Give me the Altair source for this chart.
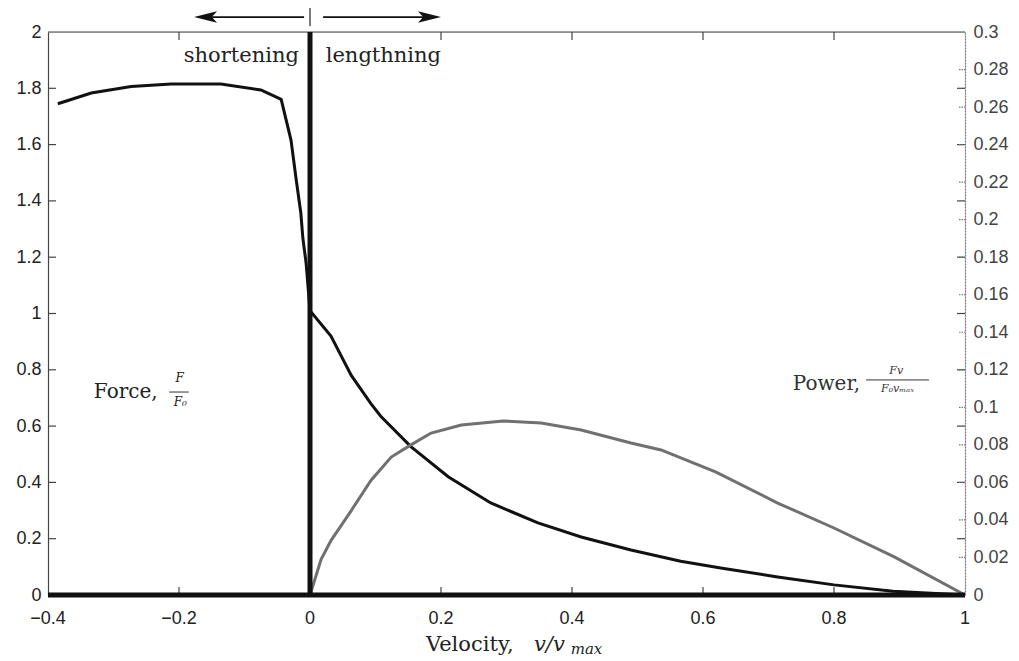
import altair as alt
import pandas as pd

# ---------------- data ----------------
force_v = [-0.385, -0.334, -0.273, -0.212, -0.136, -0.075, -0.044, -0.029, -0.021, -0.014,
           -0.011, -0.006, 0.0, 0.032, 0.063, 0.093, 0.108, 0.154, 0.211, 0.276, 0.348,
           0.414, 0.49, 0.566, 0.627, 0.714, 0.80, 0.89, 1.0]
force_f = [1.745, 1.783, 1.806, 1.815, 1.815, 1.794, 1.761, 1.616, 1.474, 1.357,
           1.27, 1.18, 1.01, 0.92, 0.78, 0.68, 0.635, 0.527, 0.42, 0.327, 0.256,
           0.206, 0.16, 0.12, 0.096, 0.064, 0.036, 0.013, 0.0]

power_v = [0.0, 0.017, 0.032, 0.063, 0.093, 0.124, 0.154, 0.185, 0.231, 0.295, 0.353,
           0.414, 0.49, 0.536, 0.62, 0.714, 0.80, 0.892, 1.0]
power_p = [0.0, 0.019, 0.029, 0.045, 0.061, 0.0735, 0.080, 0.0863, 0.0906, 0.0927, 0.0917,
           0.0879, 0.081, 0.0773, 0.0655, 0.049, 0.0357, 0.0203, 0.0]

x_ticks = [-0.4, -0.2, 0.0, 0.2, 0.4, 0.6, 0.8, 1.0]
y_ticks = [0.0, 0.2, 0.4, 0.6, 0.8, 1.0, 1.2, 1.4, 1.6, 1.8, 2.0]
p_ticks = [0.0, 0.02, 0.04, 0.06, 0.08, 0.1, 0.12, 0.14, 0.16, 0.18, 0.2, 0.22, 0.24, 0.26, 0.28, 0.3]

# ---------------- scales ----------------
XD = [-0.4, 1.0]
YD = [0.0, 2.0]
PD = [0.0, 0.3]


def xsc():
    return alt.Scale(domain=XD, nice=False, zero=False)


def ysc():
    return alt.Scale(domain=YD, nice=False, zero=False)


def psc():
    return alt.Scale(domain=PD, nice=False, zero=False)


TICK_X = 8 / 655.0   # inward tick length in x units
TICK_Y = 8 / 281.5   # inward tick length in y units
LABEL_GAP_Y = 15 / 281.5

SERIF = "DejaVu Serif"
SANS = "Liberation Sans"

force_df = pd.DataFrame({"v": force_v, "f": force_f})
power_df = pd.DataFrame({"v": power_v, "p": power_p})

force_line = alt.Chart(force_df).mark_line(color="#111111", strokeWidth=3, clip=False).encode(
    x=alt.X("v:Q", scale=xsc(), axis=None),
    y=alt.Y("f:Q", scale=ysc(),
            axis=alt.Axis(orient="left", values=y_ticks, title="", ticks=False, grid=False,
                          domainColor="#444444", domainWidth=1.2,
                          labelFont=SANS, labelFontSize=18, labelColor="#222222",
                          labelPadding=7, format="~g")),
)

power_line = alt.Chart(power_df).mark_line(color="#707070", strokeWidth=3, clip=False).encode(
    x=alt.X("v:Q", scale=xsc(), axis=None),
    y=alt.Y("p:Q", scale=psc(),
            axis=alt.Axis(orient="right", values=p_ticks, title="", ticks=False, grid=False,
                          domainColor="#777777", domainDash=[2, 1], domainWidth=1.2,
                          labelFont=SANS, labelFontSize=18, labelColor="#444444",
                          labelPadding=8, format="~g")),
)

# bottom tick labels, placed through the x scale
x_label_df = pd.DataFrame({"v": x_ticks, "y": [-LABEL_GAP_Y] * len(x_ticks)})
x_labels = alt.Chart(x_label_df).mark_text(
    clip=False, align="center", baseline="top", font=SANS, fontSize=18, color="#222222").encode(
    x=alt.X("v:Q", scale=xsc(), axis=None),
    y=alt.Y("y:Q", scale=ysc(), axis=None),
    text=alt.Text("v:Q", format="~g"),
)


def seg_df(x1, x2, y1, y2):
    return pd.DataFrame({"x1": x1, "x2": x2, "y1": y1, "y2": y2})


def rules(df, yscale=None, **kw):
    return alt.Chart(df).mark_rule(clip=False, **kw).encode(
        x=alt.X("x1:Q", scale=xsc(), axis=None), x2="x2:Q",
        y=alt.Y("y1:Q", scale=yscale if yscale is not None else ysc(), axis=None), y2="y2:Q")


inner_x = [t for t in x_ticks if XD[0] < t < XD[1]]
inner_y = [t for t in y_ticks if YD[0] < t < YD[1]]
inner_p = [t for t in p_ticks if PD[0] < t < PD[1]]

layers = [force_line, power_line, x_labels]

# frame and inward ticks
layers.append(rules(seg_df([XD[0]], [XD[1]], [YD[1]], [YD[1]]), color="#444444", strokeWidth=1.2))
layers.append(rules(seg_df([XD[0]] * len(inner_y), [XD[0] + TICK_X] * len(inner_y), inner_y, inner_y),
                    color="#444444", strokeWidth=1.2))
layers.append(rules(seg_df([XD[1] - TICK_X] * len(inner_y), [XD[1]] * len(inner_y), inner_y, inner_y),
                    color="#444444", strokeWidth=1.2))
layers.append(rules(seg_df(inner_x, inner_x, [0.0] * len(inner_x), [TICK_Y] * len(inner_x)),
                    color="#444444", strokeWidth=1.2))
layers.append(rules(seg_df(inner_x, inner_x, [YD[1] - TICK_Y] * len(inner_x), [YD[1]] * len(inner_x)),
                    color="#444444", strokeWidth=1.2))
layers.append(rules(seg_df([XD[1] - 6 / 655.0] * len(inner_p), [XD[1]] * len(inner_p), inner_p, inner_p),
                    yscale=psc(), color="#777777", strokeWidth=1.2, strokeDash=[1.5, 1]))

# thick zero lines
layers.append(rules(seg_df([XD[0]], [XD[1]], [0.0], [0.0]), color="#111111", strokeWidth=5))
layers.append(rules(seg_df([0.0], [0.0], [0.0], [YD[1]]), color="#111111", strokeWidth=5))

# arrows above the plot
arrow_y = 2.053
layers.append(rules(seg_df([-0.009, 0.02], [-0.16, 0.182], [arrow_y, arrow_y], [arrow_y, arrow_y]),
                    color="#111111", strokeWidth=1.6))
layers.append(rules(seg_df([0.0], [0.0], [2.021], [2.089]), color="#222222", strokeWidth=1.2))
head_left = "M -1 0 L 1 -0.5 L 0.55 0 L 1 0.5 Z"
head_right = "M 1 0 L -1 -0.5 L -0.55 0 L -1 0.5 Z"
for hx, shp in [(-0.1595, head_left), (0.1824, head_right)]:
    layers.append(
        alt.Chart(pd.DataFrame({"x": [hx], "y": [arrow_y]})).mark_point(
            shape=shp, size=529, filled=True, color="#111111", opacity=1, clip=False).encode(
            x=alt.X("x:Q", scale=xsc(), axis=None), y=alt.Y("y:Q", scale=ysc(), axis=None)))


def txt(x, y, t, **kw):
    df = pd.DataFrame({"x": [x], "y": [y], "t": [t]})
    return alt.Chart(df).mark_text(clip=False, **kw).encode(
        x=alt.X("x:Q", scale=xsc(), axis=None), y=alt.Y("y:Q", scale=ysc(), axis=None), text="t:N")


layers += [
    txt(-0.017, 1.895, "shortening", align="right", baseline="alphabetic", font=SERIF, fontSize=21, color="#222222"),
    txt(0.024, 1.895, "lengthning", align="left", baseline="alphabetic", font=SERIF, fontSize=21, color="#222222"),
    # Force label
    txt(-0.33, 0.70, "Force,", align="left", baseline="alphabetic", font=SERIF, fontSize=20, color="#222222"),
    txt(-0.199, 0.755, "F", align="center", baseline="alphabetic", font=SERIF, fontStyle="italic", fontSize=12, color="#222222"),
    txt(-0.198, 0.672, "F₀", align="center", baseline="alphabetic", font=SERIF, fontStyle="italic", fontSize=12, color="#222222"),
    # Power label
    txt(0.737, 0.728, "Power,", align="left", baseline="alphabetic", font=SERIF, fontSize=20, color="#333333"),
    txt(0.895, 0.786, "Fv", align="center", baseline="alphabetic", font=SERIF, fontStyle="italic", fontSize=11, color="#333333"),
    txt(0.897, 0.722, "F₀vₘₐₓ", align="center", baseline="alphabetic", font=SERIF, fontStyle="italic", fontSize=11, color="#333333"),
    # x title
    txt(0.177, -0.199, "Velocity,", align="left", baseline="alphabetic", font=SERIF, fontSize=21, color="#222222"),
    txt(0.342, -0.199, "v/v", align="left", baseline="alphabetic", font=SERIF, fontStyle="italic", fontSize=21, color="#222222"),
    txt(0.398, -0.211, "max", align="left", baseline="alphabetic", font=SERIF, fontStyle="italic", fontSize=15, color="#222222"),
]
layers.append(rules(seg_df([-0.215, 0.849], [-0.185, 0.945], [0.721, 0.764], [0.721, 0.764]),
                    color="#333333", strokeWidth=1))

chart = alt.layer(*layers).resolve_scale(y="independent").properties(
    width=917, height=563,
    autosize=alt.AutoSizeParams(type="none"),
    padding={"left": 40, "top": 24, "right": 46, "bottom": 64},
).configure_view(stroke=None).configure(background="white")

chart.save("out.html", embed_options={"renderer": "svg", "actions": False})
